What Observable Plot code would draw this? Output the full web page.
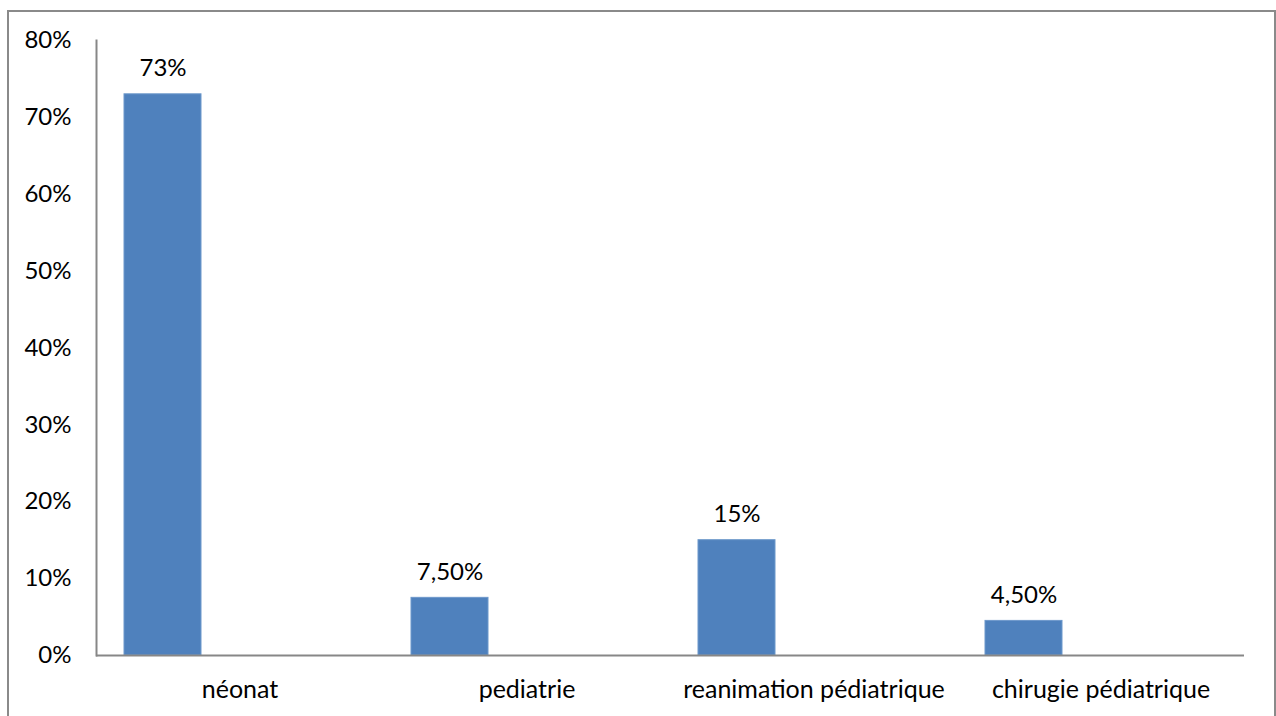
<!DOCTYPE html>
<html>
<head>
<meta charset="utf-8">
<script src="https://cdn.jsdelivr.net/npm/d3@7"></script>
<script src="https://cdn.jsdelivr.net/npm/@observablehq/plot@0.6"></script>
<style>
  html, body { margin: 0; padding: 0; background: #fff; }
  #wrap { position: relative; width: 1276px; height: 716px; overflow: hidden; }
  #box { position: absolute; left: 7px; top: 10px; width: 1265px; height: 720px;
         border: 2px solid #8a8a8a; border-bottom: none; pointer-events: none; }
  svg { display: block; }
</style>
</head>
<body>
<div id="wrap"><div id="box"></div></div>
<script>
// Services and share of cases per service
const services = ["néonat", "pediatrie", "reanimation pédiatrique", "chirugie pédiatrique"];
const shares = [0.73, 0.075, 0.15, 0.045];
// Series slots within each category (only the first one holds data)
const slots = ["s1", "s2", "s3"];
const yTicks = [0, 0.1, 0.2, 0.3, 0.4, 0.5, 0.6, 0.7, 0.8];

const rows = services.map((s, i) => ({service: s, slot: slots[0], share: shares[i]}));

// French-style percent label: 73% / 7,50%
const pct = v => {
  const p = Math.round(v * 10000) / 100;
  return Number.isInteger(p) ? `${p}%` : `${p.toFixed(2).replace(".", ",")}%`;
};

const axisColor = "#878787";

const chart = Plot.plot({
  width: 1276,
  height: 716,
  marginLeft: 96,
  marginRight: 32,
  marginTop: 40,
  marginBottom: 61,
  style: {fontFamily: "Lato, 'Open Sans', sans-serif", fontSize: "24px", color: "#000", background: "transparent"},
  fx: {domain: services, padding: 0, label: null},
  x: {domain: slots, paddingInner: 0, paddingOuter: 0.35, axis: null},
  y: {domain: [0, 0.8], label: null},
  marks: [
    Plot.barY(rows, {fx: "service", x: "slot", y: "share", fill: "#4f81bd", stroke: "#6d98cb", strokeWidth: 1}),
    Plot.ruleY([0], {stroke: axisColor, strokeWidth: 2}),
    Plot.frame({anchor: "left", facet: "super", stroke: axisColor, strokeWidth: 2}),
    Plot.text(rows, {fx: "service", x: "slot", y: "share", text: d => pct(d.share),
      lineAnchor: "bottom", dy: -18, fill: "#000"}),
    Plot.axisY(yTicks, {tickSize: 0, tickPadding: 25, tickFormat: d => `${Math.round(d * 100)}%`,
      label: null, fill: "#000"}),
    Plot.axisFx({anchor: "bottom", tickSize: 0, tickPadding: 25, label: null, fill: "#000", fontSize: 25})
  ]
});

document.getElementById("wrap").prepend(chart);
</script>
</body>
</html>
